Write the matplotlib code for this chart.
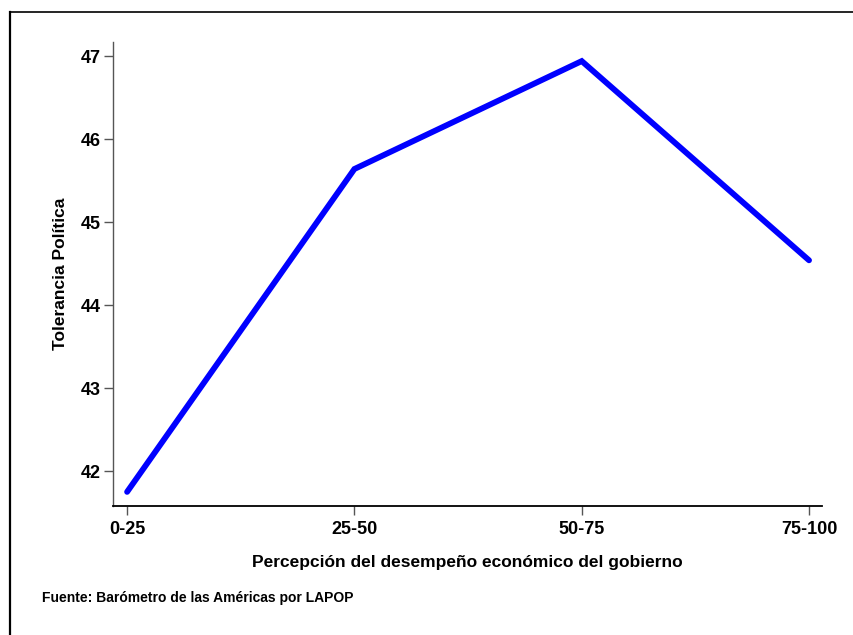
import matplotlib.pyplot as plt
from matplotlib.lines import Line2D

plt.rcParams['font.family'] = ['Liberation Sans', 'DejaVu Sans']
plt.rcParams['font.weight'] = 'bold'

# Data
categories = ['0-25', '25-50', '50-75', '75-100']
tolerancia = [41.75, 45.64, 46.94, 44.54]
y_ticks = [42, 43, 44, 45, 46, 47]

fig = plt.figure(figsize=(8.54, 6.35), dpi=100)
ax = fig.add_axes([113 / 854, 1 - 506 / 635, (822 - 113) / 854, (506 - 42) / 635])

x = list(range(len(categories)))
ax.plot(x, tolerancia, color='#0000ff', linewidth=4.2, solid_capstyle='round', solid_joinstyle='miter')

ax.set_xlim(-0.062, 3.057)
ax.set_ylim(41.58, 47.17)
ax.set_xticks(x)
ax.set_xticklabels(categories)
ax.set_yticks(y_ticks)

for s in ['top', 'right']:
    ax.spines[s].set_visible(False)
ax.spines['left'].set_color('#555555')
ax.spines['left'].set_linewidth(1.0)
ax.spines['bottom'].set_color('black')
ax.spines['bottom'].set_linewidth(1.3)
ax.tick_params(axis='both', direction='out', length=6.5, width=1.0, color='#555555',
               labelsize=13, pad=2.5)
ax.tick_params(axis='x', pad=4.5)

ax.set_ylabel('Tolerancia Política', fontsize=12.5, fontweight='bold', labelpad=9)
ax.set_xlabel('Percepción del desempeño económico del gobierno', fontsize=12.5,
              fontweight='bold', labelpad=12)

fig.text(42 / 854, 1 - 598 / 635, 'Fuente: Barómetro de las Américas por LAPOP',
         fontsize=10, fontweight='bold', va='center', ha='left')

# outer frame (left and top edges visible)
fig.add_artist(Line2D([10 / 854, 10 / 854], [0, 1 - 12 / 635], transform=fig.transFigure,
                      color='black', linewidth=1.6))
fig.add_artist(Line2D([10 / 854, 1], [1 - 12 / 635, 1 - 12 / 635], transform=fig.transFigure,
                      color='black', linewidth=1.2))

fig.savefig('out.png', dpi=100)
